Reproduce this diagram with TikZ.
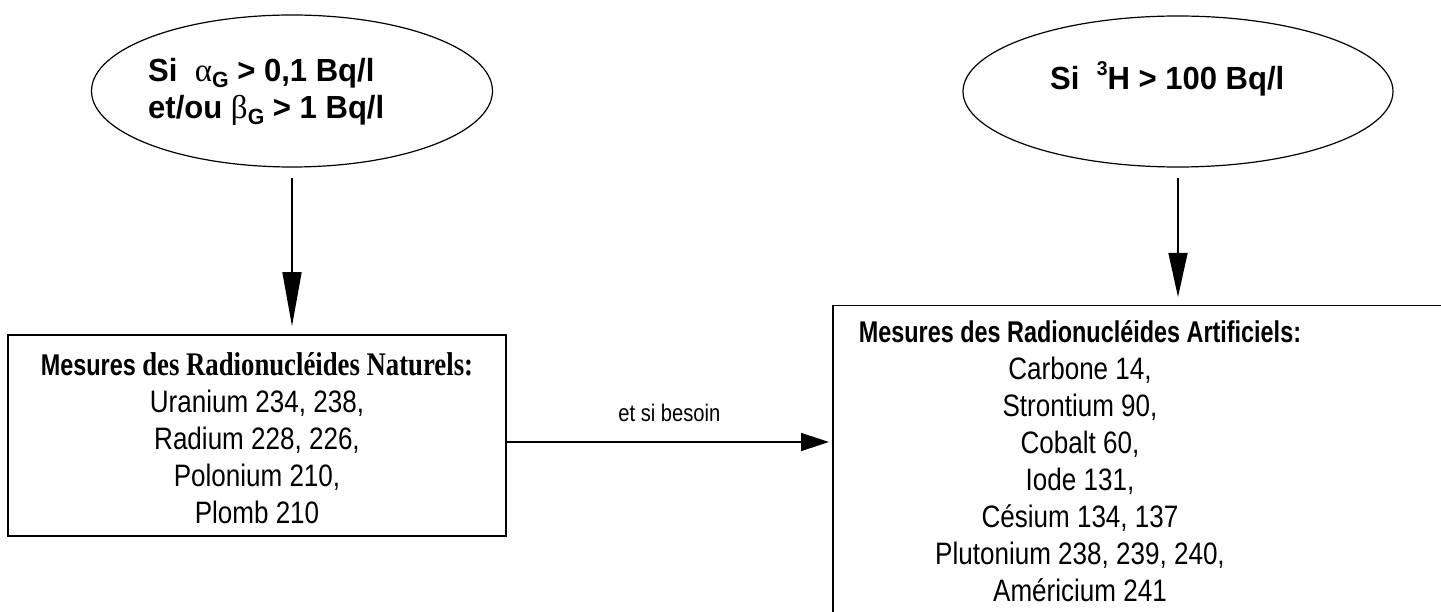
\documentclass[tikz,border=0pt]{standalone}
\usepackage{fontspec}
\setmainfont{Liberation Sans}
\newfontfamily\boxfont[FakeStretch=0.84]{Liberation Sans}
\newfontfamily\titlefont[FakeStretch=0.78]{Liberation Sans}
\newfontfamily\titleserif[FakeStretch=0.81]{Liberation Serif}
\newfontfamily\condfont[FakeStretch=0.97]{Liberation Sans}
\newfontfamily\serifgr{Liberation Serif}
\usetikzlibrary{shapes.geometric,arrows.meta}
\begin{document}
\begin{tikzpicture}[x=1pt,y=-1pt,
  cond/.style={ellipse, draw, line width=1.2pt, inner sep=0pt},
  condtext/.style={font=\condfont\bfseries\fontsize{32}{37}\selectfont, align=left, inner sep=0pt},
  listbox/.style={draw, line width=1.5pt, inner sep=0pt},
  listtext/.style={font=\boxfont\fontsize{31}{37}\selectfont, align=center, inner sep=0pt},
  downarrow/.style={line width=1.5pt, shorten <=10pt, shorten >=8pt},
  lbl/.style={font=\boxfont\fontsize{24}{28}\selectfont, inner sep=0pt}
]
\useasboundingbox (0,0) rectangle (1441,612);
% ellipses
\node[cond, minimum width=401pt, minimum height=152pt] (ellA) at (292,91) {};
\node[condtext, anchor=west] (txtA) at (148,92) {Si\ \ {\serifgr\mdseries\fontsize{33}{37}\selectfont α}\raisebox{-0.2em}{\fontsize{22}{22}\selectfont G} > 0,1 Bq/l\\et/ou {\serifgr\mdseries\fontsize{33}{37}\selectfont β}\raisebox{-0.2em}{\fontsize{22}{22}\selectfont G} > 1 Bq/l};
\node[cond, minimum width=430pt, minimum height=151pt] (ellB) at (1178,91.5) {};
\node[condtext, anchor=base west] (txtB) at (1050,90) {Si\ \ \raisebox{0.45em}{\fontsize{20}{20}\selectfont 3}H > 100 Bq/l};
% boxes
\node[listbox, minimum width=498pt, minimum height=201pt] (natbox) at (257,435.5) {};
\node[listtext] (nattxt) at (257,438) {{\titlefont\fontsize{30}{37}\selectfont\bfseries Mesures {\titleserif\fontsize{33}{37}\selectfont des Radionucléides Naturels:}}\\Uranium 234, 238,\\Radium 228, 226,\\Polonium 210,\\Plomb 210};
\node[listbox, minimum width=660pt, minimum height=340pt, anchor=north west] (artbox) at (832,305) {};
\node[listtext] (arttxt) at (1080,461) {{\titlefont\fontsize{30}{37}\selectfont\bfseries Mesures des Radionucléides Artificiels:}\\Carbone 14,\\Strontium 90,\\Cobalt 60,\\Iode 131,\\Césium 134, 137\\Plutonium 238, 239, 240,\\Américium 241};
% connectors
\draw[downarrow, -{Triangle[length=54pt,width=19pt]}] (ellA.south) -- (ellA.south |- natbox.north);
\draw[downarrow, -{Triangle[length=44pt,width=19pt]}] (ellB.south) -- (ellB.south |- artbox.north);
\draw[line width=1.5pt, shorten >=3pt, -{Triangle[length=28pt,width=18pt]}] ([yshift=-6.5pt]natbox.east) -- ([yshift=-6.5pt]natbox.east -| artbox.west) node[lbl, midway, above=20pt] (besoin) {et si besoin};
\end{tikzpicture}
\end{document}
